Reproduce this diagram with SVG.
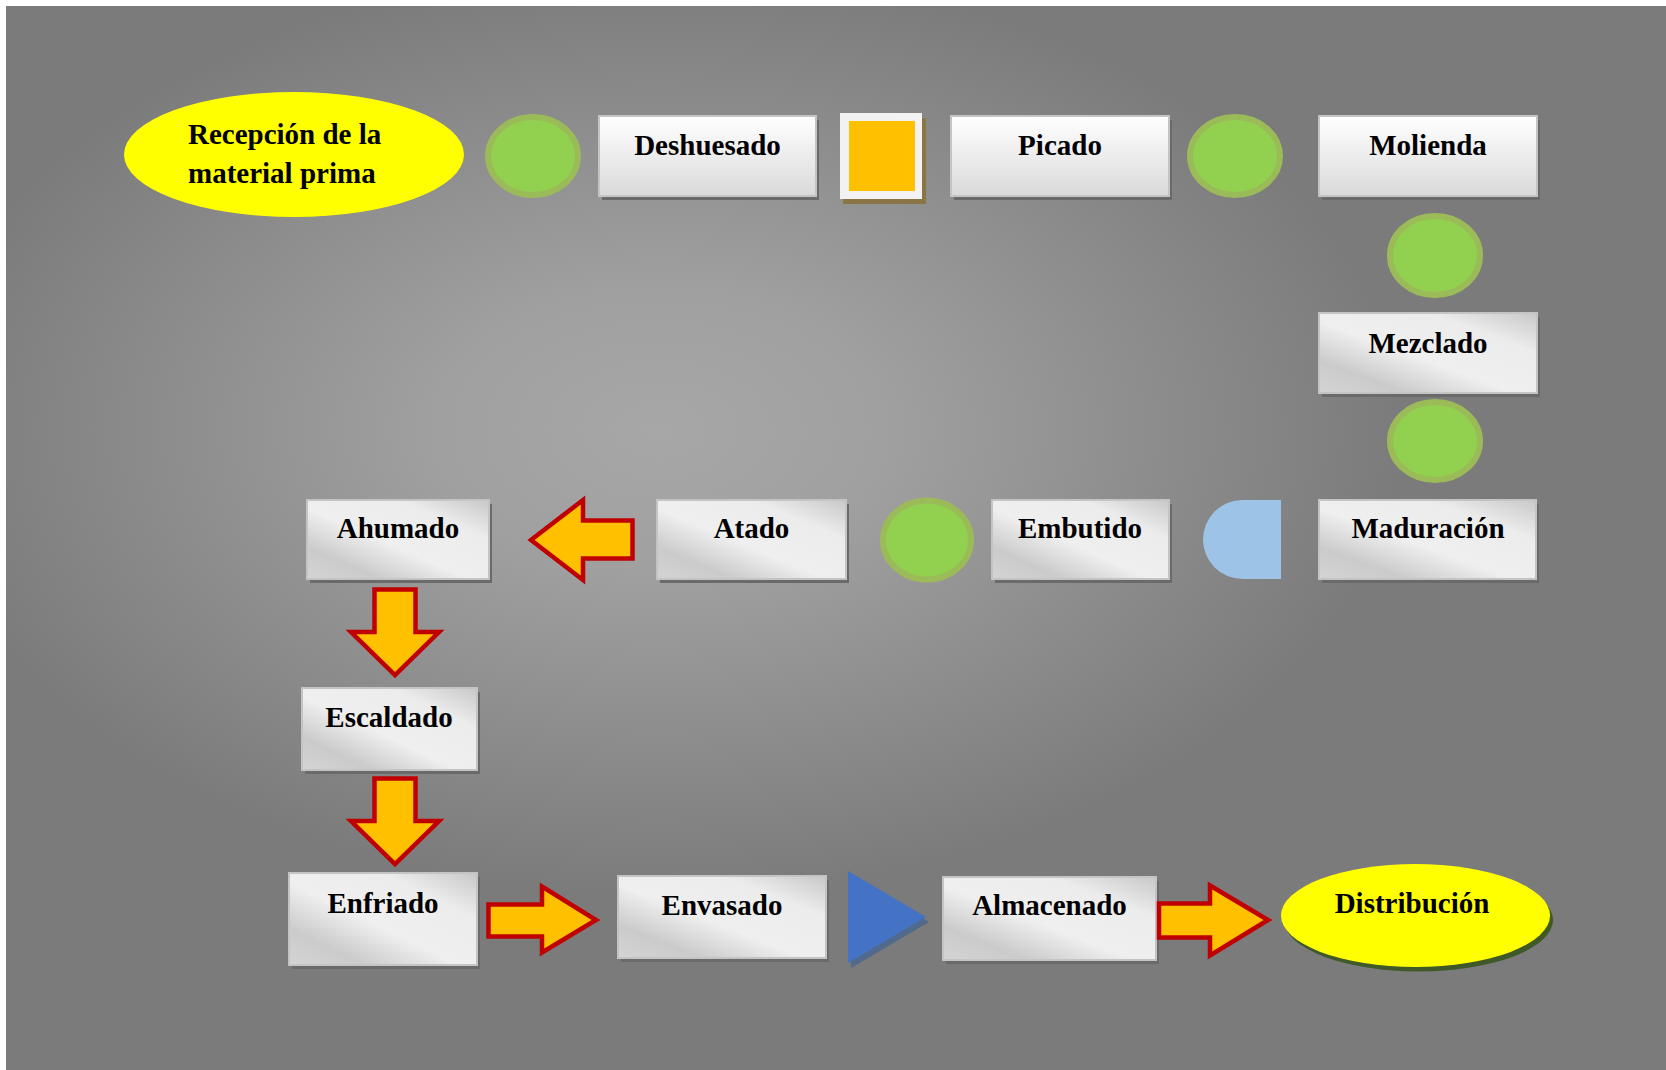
<svg xmlns="http://www.w3.org/2000/svg" width="1666" height="1070" viewBox="0 0 1666 1070">
<defs>
<radialGradient id="bg" gradientUnits="userSpaceOnUse" cx="660" cy="430" r="620" gradientTransform="translate(660 430) scale(1.2 0.75) translate(-660 -430)">
<stop offset="0" stop-color="#a7a7a7"/>
<stop offset="0.3" stop-color="#a0a0a0"/>
<stop offset="1" stop-color="#7b7b7b"/>
</radialGradient>
<linearGradient id="gv" x1="0" y1="0" x2="0" y2="1">
<stop offset="0" stop-color="#ffffff"/>
<stop offset="0.35" stop-color="#f2f2f2"/>
<stop offset="1" stop-color="#d9d9d9"/>
</linearGradient>
<linearGradient id="gm" x1="0" y1="1" x2="1" y2="0">
<stop offset="0" stop-color="#d4d4d4"/>
<stop offset="0.2" stop-color="#cbcbcb"/>
<stop offset="0.45" stop-color="#efefef"/>
<stop offset="0.75" stop-color="#ececec"/>
<stop offset="1" stop-color="#c8c8c8"/>
</linearGradient>
</defs>
<style>
.box{stroke:#c4c4c4;stroke-width:2}
.v{fill:url(#gv)}
.m{fill:url(#gm)}
.sh{fill:#6a6a6a}
.t{font-family:"Liberation Serif","Times New Roman",serif;font-weight:bold;font-size:29px;fill:#000;text-anchor:middle}
.dot{fill:#92d050;stroke:#9bbb59;stroke-width:6}
.arr{fill:#ffc000;stroke:#c00000;stroke-width:4.5;stroke-linejoin:miter}
</style>
<rect x="0" y="0" width="1666" height="1070" fill="#ffffff"/>
<rect x="6" y="6" width="1660" height="1064" fill="url(#bg)"/>

<g id="n-recepcion">
<ellipse cx="294" cy="154.5" rx="170" ry="62.5" fill="#ffff00"/>
<text class="t" x="188" y="144" style="text-anchor:start">Recepción de la</text>
<text class="t" x="188" y="183" style="text-anchor:start">material prima</text>
</g>
<g id="n-op1"><ellipse class="dot" cx="533" cy="156" rx="45" ry="39"/></g>
<g id="n-deshuesado">
<rect class="sh" x="602" y="120" width="217" height="80"/>
<rect class="box v" x="599" y="116" width="217" height="80"/>
<text class="t" x="707.5" y="155">Deshuesado</text>
</g>
<g id="n-insp">
<rect x="843" y="118" width="83" height="86" fill="#8a7545"/>
<rect x="840" y="113" width="82" height="86" fill="#f2f2f2"/>
<rect x="849" y="121" width="66" height="70" fill="#ffc000"/>
</g>
<g id="n-picado">
<rect class="sh" x="954" y="120" width="218" height="80"/>
<rect class="box v" x="951" y="116" width="218" height="80"/>
<text class="t" x="1060" y="155">Picado</text>
</g>
<g id="n-op2"><ellipse class="dot" cx="1235" cy="156" rx="45" ry="39"/></g>
<g id="n-molienda">
<rect class="sh" x="1322" y="120" width="218" height="80"/>
<rect class="box v" x="1319" y="116" width="218" height="80"/>
<text class="t" x="1428" y="155">Molienda</text>
</g>
<g id="n-op3"><ellipse class="dot" cx="1435" cy="255.5" rx="45" ry="39.5"/></g>
<g id="n-mezclado">
<rect class="sh" x="1322" y="317" width="218" height="80"/>
<rect class="box m" x="1319" y="313" width="218" height="80"/>
<text class="t" x="1428" y="353">Mezclado</text>
</g>
<g id="n-op4"><ellipse class="dot" cx="1435" cy="441" rx="45" ry="39"/></g>
<g id="n-maduracion">
<rect class="sh" x="1322" y="504" width="217" height="79"/>
<rect class="box m" x="1319" y="500" width="217" height="79"/>
<text class="t" x="1428" y="538">Maduración</text>
</g>
<g id="n-delay">
<path d="M1281,500 L1242.5,500 A39.5,39.5 0 0 0 1242.5,579 L1281,579 Z" fill="#9dc3e6"/>
</g>
<g id="n-embutido">
<rect class="sh" x="995" y="504" width="177" height="79"/>
<rect class="box m" x="992" y="500" width="177" height="79"/>
<text class="t" x="1080" y="538">Embutido</text>
</g>
<g id="n-op5"><ellipse class="dot" cx="927" cy="540" rx="44" ry="39.5"/></g>
<g id="n-atado">
<rect class="sh" x="660" y="504" width="189" height="79"/>
<rect class="box m" x="657" y="500" width="189" height="79"/>
<text class="t" x="751.5" y="538">Atado</text>
</g>
<g id="n-ahumado">
<rect class="sh" x="310" y="504" width="182" height="79"/>
<rect class="box m" x="307" y="500" width="182" height="79"/>
<text class="t" x="398" y="538">Ahumado</text>
</g>
<g id="n-escaldado">
<rect class="sh" x="305" y="692" width="175" height="82"/>
<rect class="box m" x="302" y="688" width="175" height="82"/>
<text class="t" x="389" y="727">Escaldado</text>
</g>
<g id="n-enfriado">
<rect class="sh" x="292" y="877" width="188" height="92"/>
<rect class="box m" x="289" y="873" width="188" height="92"/>
<text class="t" x="383" y="913">Enfriado</text>
</g>
<g id="n-envasado">
<rect class="sh" x="621" y="880" width="208" height="82"/>
<rect class="box m" x="618" y="876" width="208" height="82"/>
<text class="t" x="722" y="915">Envasado</text>
</g>
<g id="n-transporte">
<polygon points="851,876 851,968 929,922" fill="#51698a"/>
<polygon points="848,871 848,963 926,917" fill="#4472c4"/>
</g>
<g id="n-almacenado">
<rect class="sh" x="946" y="881" width="213" height="83"/>
<rect class="box m" x="943" y="877" width="213" height="83"/>
<text class="t" x="1049.5" y="915">Almacenado</text>
</g>
<g id="n-distribucion">
<ellipse cx="1418.5" cy="920" rx="134.5" ry="51.5" fill="#3f5a28"/>
<ellipse cx="1415.5" cy="915.5" rx="134.5" ry="51.5" fill="#ffff00"/>
<text class="t" x="1412" y="913">Distribución</text>
</g>

<g id="connectors">
<polygon class="arr" points="632.5,520.5 583,520.5 583,500 531,540 583,580 583,558.5 632.5,558.5"/>
<polygon class="arr" points="374.5,589.5 415.5,589.5 415.5,632 439,632 395,675 351,632 374.5,632"/>
<polygon class="arr" points="374.5,778.5 415.5,778.5 415.5,821 439,821 395,864 351,821 374.5,821"/>
<polygon class="arr" points="488.5,904.5 542,904.5 542,886.5 596,920 542,952.5 542,936.5 488.5,936.5"/>
<polygon class="arr" points="1159,903.5 1210,903.5 1210,885.5 1268,920 1210,955.5 1210,937.5 1159,937.5"/>
</g>
</svg>
